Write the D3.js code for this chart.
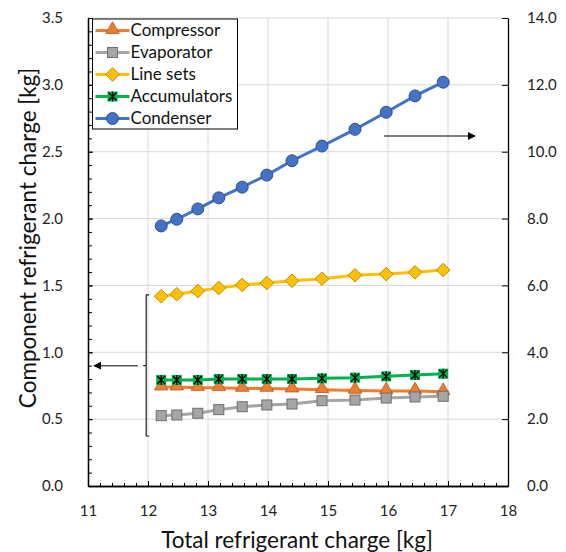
<!DOCTYPE html>
<html>
<head>
<meta charset="utf-8">
<script src="https://cdn.jsdelivr.net/npm/d3@7"></script>
<style>
  body { margin: 0; background: #fff; }
  svg { display: block; font-family: Lato, "Open Sans", sans-serif; }
</style>
</head>
<body>
<svg id="chart" width="566" height="552"></svg>
<script>
// values
const totalCharge = [12.22, 12.48, 12.83, 13.18, 13.57, 13.98, 14.40, 14.90, 15.45, 15.97, 16.45, 16.92]
const compressor = [0.74, 0.74, 0.735, 0.735, 0.73, 0.73, 0.725, 0.72, 0.715, 0.71, 0.71, 0.705]
const evaporator = [0.526, 0.531, 0.544, 0.571, 0.593, 0.606, 0.613, 0.638, 0.643, 0.658, 0.666, 0.671]
const lineSets = [1.419, 1.434, 1.458, 1.481, 1.504, 1.518, 1.535, 1.55, 1.576, 1.585, 1.598, 1.615]
const accumulators = [0.793, 0.793, 0.793, 0.80, 0.80, 0.80, 0.80, 0.805, 0.81, 0.82, 0.83, 0.84]
const condenser = [7.78, 7.98, 8.29, 8.62, 8.94, 9.30, 9.73, 10.17, 10.67, 11.18, 11.67, 12.08] // right axis

const xTicks = [11, 12, 13, 14, 15, 16, 17, 18]
const leftTicks = [0, 0.5, 1, 1.5, 2, 2.5, 3, 3.5]
const rightTicks = [0, 2, 4, 6, 8, 10, 12, 14]

const seriesList = [
    { name: "Compressor", values: compressor, axis: "left", color: "#ED7D31", stroke: "#AE5A21", marker: "triangle" },
    { name: "Evaporator", values: evaporator, axis: "left", color: "#A5A5A5", stroke: "#6E6E6E", marker: "square" },
    { name: "Line sets", values: lineSets, axis: "left", color: "#FFC000", stroke: "#B08400", marker: "diamond" },
    { name: "Accumulators", values: accumulators, axis: "left", color: "#00B050", stroke: "#000", marker: "star" },
    { name: "Condenser", values: condenser, axis: "right", color: "#4472C4", stroke: "#2F528F", marker: "circle" },
]

const svg = d3.select("#chart")
const plot = { left: 88, right: 508, top: 18, bottom: 486 }

const x = d3.scaleLinear().domain([11, 18]).range([plot.left, plot.right])
const yLeft = d3.scaleLinear().domain([0, 3.5]).range([plot.bottom, plot.top])
const yRight = d3.scaleLinear().domain([0, 14]).range([plot.bottom, plot.top])

// grid
const grid = svg.append("g").attr("class", "grid")
grid.selectAll(".gx").data(xTicks.slice(1, -1)).join("line")
    .attr("x1", d => x(d)).attr("x2", d => x(d))
    .attr("y1", plot.top).attr("y2", plot.bottom)
    .attr("stroke", "#d9d9d9").attr("stroke-width", 1)
grid.selectAll(".gy").data(leftTicks.slice(1)).join("line")
    .attr("x1", plot.left).attr("x2", plot.right)
    .attr("y1", d => yLeft(d)).attr("y2", d => yLeft(d))
    .attr("stroke", "#d9d9d9").attr("stroke-width", 1)

function styleAxis(g) {
    g.select(".domain").attr("stroke", "#000").attr("stroke-width", 1.3)
    g.selectAll(".tick line").attr("stroke", "#000")
    g.selectAll(".tick text").attr("fill", "#222").style("font-size", "15px")
        .style("font-family", "Lato, sans-serif")
}

// minor ticks first
svg.append("g").attr("transform", `translate(${plot.left},0)`)
    .call(d3.axisLeft(yLeft).tickValues(d3.range(0, 3.51, 0.1)).tickFormat("").tickSize(-4).tickSizeOuter(0))
    .call(styleAxis)
svg.append("g").attr("transform", `translate(0,${plot.bottom})`)
    .call(d3.axisBottom(x).tickValues(d3.range(11, 18.01, 0.2)).tickFormat("").tickSize(-3).tickSizeOuter(0))
    .call(styleAxis)

svg.append("g").attr("transform", `translate(${plot.left},0)`)
    .call(d3.axisLeft(yLeft).tickValues(leftTicks).tickFormat(d3.format(".1f")).tickSize(-5).tickSizeOuter(0).tickPadding(25))
    .call(styleAxis)
svg.append("g").attr("transform", `translate(${plot.right},0)`)
    .call(d3.axisRight(yRight).tickValues(rightTicks).tickFormat(d3.format(".1f")).tickSize(-6).tickSizeOuter(0).tickPadding(19))
    .call(styleAxis)
svg.append("g").attr("transform", `translate(0,${plot.bottom})`)
    .call(d3.axisBottom(x).tickValues(xTicks).tickFormat(d3.format("d")).tickSize(-5).tickSizeOuter(0).tickPadding(19))
    .call(styleAxis)

// axis titles
svg.append("text")
    .attr("transform", "translate(36,238) rotate(-90)")
    .attr("text-anchor", "middle")
    .style("font-size", "22.5px").attr("fill", "#111")
    .text("Component refrigerant charge [kg]")
svg.append("text")
    .attr("x", 297).attr("y", 548)
    .attr("text-anchor", "middle")
    .style("font-size", "22.5px").attr("fill", "#111")
    .text("Total refrigerant charge [kg]")

function drawMarker(g, s, size) {
    if (s.marker === "triangle") {
        g.append("path").attr("d", d3.symbol(d3.symbolTriangle, size * size * 0.55)())
            .attr("transform", "translate(0,-1)")
            .attr("fill", s.color).attr("stroke", s.stroke).attr("stroke-width", 0.8)
    } else if (s.marker === "square") {
        g.append("rect").attr("x", -size / 2).attr("y", -size / 2).attr("width", size).attr("height", size)
            .attr("fill", s.color).attr("stroke", s.stroke).attr("stroke-width", 1)
    } else if (s.marker === "diamond") {
        const r = size * 0.62
        g.append("path").attr("d", `M0,${-r}L${r},0L0,${r}L${-r},0Z`)
            .attr("fill", s.color).attr("stroke", s.stroke).attr("stroke-width", 0.9)
    } else if (s.marker === "star") {
        const h = size / 2
        g.append("rect").attr("x", -h).attr("y", -h).attr("width", size).attr("height", size)
            .attr("fill", s.color)
        g.append("path").attr("d", `M${-h + 1},${-h + 1}L${h - 1},${h - 1}M${h - 1},${-h + 1}L${-h + 1},${h - 1}M0,${-h}L0,${h}`)
            .attr("stroke", "#000").attr("stroke-width", 1.2)
    } else {
        g.append("circle").attr("r", size / 2)
            .attr("fill", s.color).attr("stroke", s.stroke).attr("stroke-width", 1)
    }
}

const markerSize = { triangle: 12, square: 10, diamond: 11, star: 10, circle: 12 }

// series
seriesList.forEach(s => {
    const y = s.axis === "left" ? yLeft : yRight
    const pts = totalCharge.map((t, i) => [t, s.values[i]])
    const g = svg.append("g").attr("class", "series")
    g.append("path").datum(pts)
        .attr("d", d3.line().x(d => x(d[0])).y(d => y(d[1])))
        .attr("fill", "none").attr("stroke", s.color).attr("stroke-width", 3)
    g.selectAll(".m").data(pts).join("g")
        .attr("transform", d => `translate(${x(d[0])},${y(d[1])})`)
        .each(function () { drawMarker(d3.select(this), s, markerSize[s.marker]) })
})

// annotations: bracket + arrows (positions in data units)
const defs = svg.append("defs")
defs.append("marker").attr("id", "head")
    .attr("viewBox", "0 0 10 10").attr("refX", 9).attr("refY", 5)
    .attr("markerWidth", 8).attr("markerHeight", 8).attr("markerUnits", "userSpaceOnUse")
    .attr("orient", "auto")
    .append("path").attr("d", "M0,0L10,5L0,10Z").attr("fill", "#000")

const ann = svg.append("g")
const bx = x(11.97), bTop = yLeft(1.43), bBot = yLeft(0.374), bMid = yLeft(0.9)
ann.append("path")
    .attr("d", `M${bx + 3},${bTop}H${bx}V${bBot}H${bx + 3}M${bx},${bMid}H${bx - 3}`)
    .attr("fill", "none").attr("stroke", "#222").attr("stroke-width", 1.2)
ann.append("line")
    .attr("x1", x(11.83)).attr("x2", x(11.1)).attr("y1", bMid).attr("y2", bMid)
    .attr("stroke", "#555").attr("stroke-width", 1.5).attr("marker-end", "url(#head)")
ann.append("line")
    .attr("x1", x(15.93)).attr("x2", x(17.45)).attr("y1", yRight(10.47)).attr("y2", yRight(10.47))
    .attr("stroke", "#555").attr("stroke-width", 1.5).attr("marker-end", "url(#head)")

// legend
const legend = svg.append("g").attr("transform", "translate(92.5,19)")
legend.append("rect").attr("width", 145).attr("height", 110)
    .attr("fill", "#fff").attr("stroke", "#000").attr("stroke-width", 1)
seriesList.forEach((s, i) => {
    const row = legend.append("g").attr("transform", `translate(0,${11.5 + i * 22})`)
    row.append("line").attr("x1", 3).attr("x2", 37).attr("stroke", s.color).attr("stroke-width", 3)
    const m = row.append("g").attr("transform", "translate(20,0)")
    drawMarker(m, s, markerSize[s.marker])
    row.append("text").attr("x", 38).attr("dy", "0.35em")
        .style("font-size", "17px").attr("fill", "#111").text(s.name)
})
</script>
</body>
</html>
